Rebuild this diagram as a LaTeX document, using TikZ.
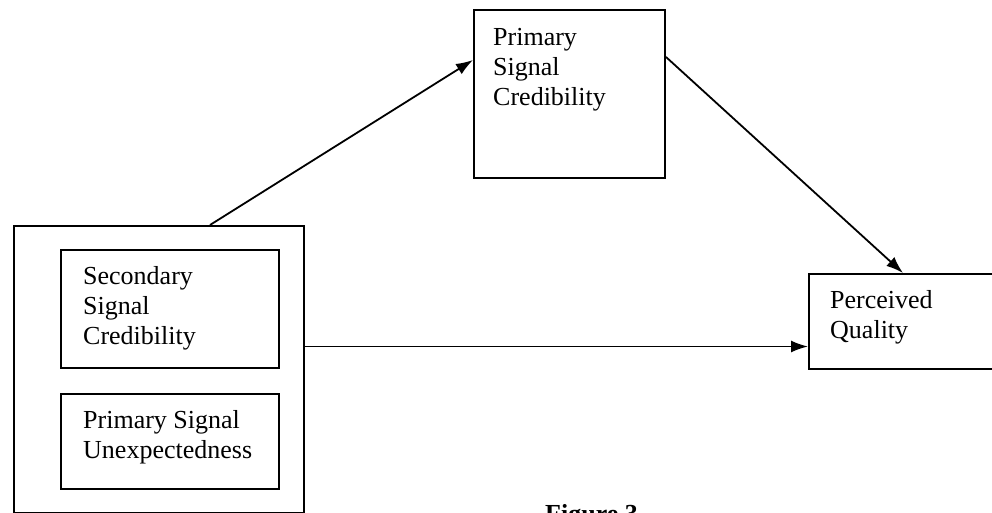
\documentclass[tikz,border=0pt]{standalone}
\usepackage{fontspec}
\setmainfont{Liberation Serif}
\usetikzlibrary{arrows.meta,calc}
\begin{document}
\begin{tikzpicture}[x=1pt,y=-1pt,
  box/.style={draw,line width=2pt,inner sep=0,anchor=north west},
  lbl/.style={anchor=base west,align=left,inner sep=0,font=\fontsize{26}{30}\selectfont},
  conn/.style={line width=1.8pt,-{Latex[length=17pt,width=12pt]}}
]
\useasboundingbox (0,0) rectangle (992,513);
% boxes
\node[box,minimum width=290pt,minimum height=287pt] (outer) at (13,225) {};
\node[box,minimum width=218pt,minimum height=118pt] (sec) at (60,249) {};
\node[box,minimum width=218pt,minimum height=95pt] (unexp) at (60,393) {};
\node[box,minimum width=191pt,minimum height=168pt] (prim) at (473,9) {};
\node[box,minimum width=200pt,minimum height=95pt] (perc) at (808,273) {};
% texts (anchored at the baseline of the last line)
\node[lbl] (tsec) at (83,344) {Secondary\\Signal\\Credibility};
\node[lbl] (tunexp) at (83,458) {Primary Signal\\Unexpectedness};
\node[lbl] (tprim) at (493,106) {Primary\\Signal\\Credibility};
\node[lbl] (tperc) at (830,338) {Perceived\\Quality};
\node[anchor=base west,inner sep=0,font=\fontsize{26}{30}\selectfont\bfseries] (cap) at (545,522) {Figure 3};
% connectors
\draw[conn] ([xshift=197pt]outer.north west) -- ([yshift=-51pt]prim.north west);
\draw[conn] ([yshift=-48pt]prim.north east) -- ([xshift=95pt]perc.north west);
\draw[conn] ([yshift=23pt]outer.east) -- ([yshift=23pt]outer.east -| perc.west);
\end{tikzpicture}
\end{document}
